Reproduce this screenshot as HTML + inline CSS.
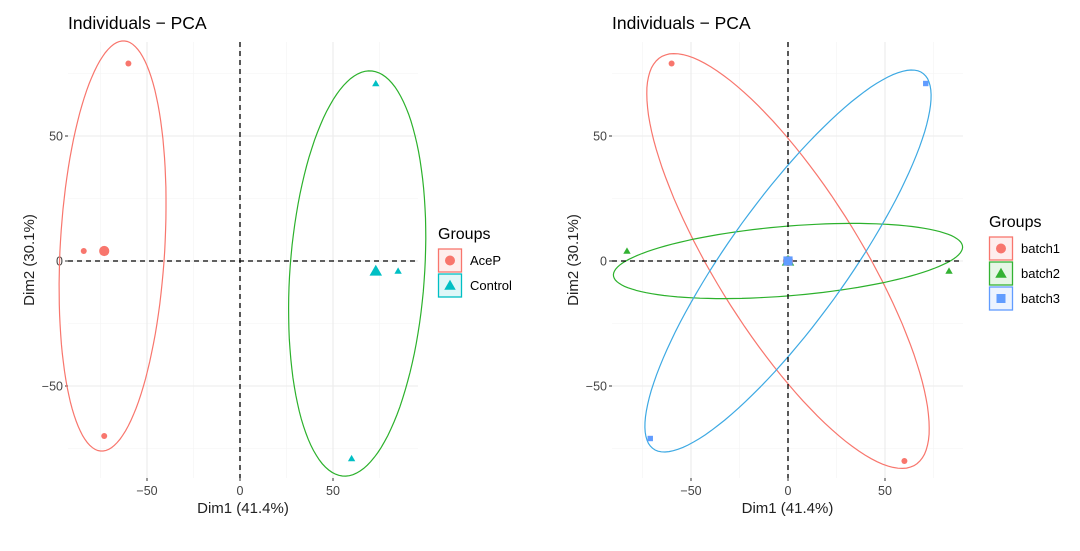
<!DOCTYPE html>
<html><head><meta charset="utf-8"><style>
body{margin:0;background:#fff;}
svg text{font-family:"Liberation Sans",Arial,sans-serif;}
</style></head><body>
<svg id="s" width="1080" height="546" xmlns="http://www.w3.org/2000/svg"></svg>
<script>
const xTicks=[-50,0,50];
const yTicks=[-50,0,50];
const minorTicks=[-75,-25,25,75];
// left panel data
const groupsA=["AceP","Control"];
const aceX=[-60,-84,-73];
const aceY=[79,4,-70];
const aceMean=[-73,4];
const ctlX=[73,85,60];
const ctlY=[71,-4,-79];
const ctlMean=[73,-4];
// ellipses: center, semi-axis vector u, semi-axis vector v (data units)
const ellAce=[[-68.5,6],[6.5,82],[28,-2]];
const ellCtl=[[63,-5],[8,81],[36,-3]];
// right panel data
const groupsB=["batch1","batch2","batch3"];
const b1X=[-60,60], b1Y=[79,-80];
const b2X=[-83,83], b2Y=[4,-4];
const b3X=[71,-71], b3Y=[71,-71];
const bMean=[0,0];
const ellB1=[[0,0],[-68,80],[26,22]];
const ellB2=[[0,0],[90,5.5],[0.5,14]];
const ellB3=[[0,0],[71,74],[20,-19]];

const RED="#F8766D",TEAL="#00BFC4",GREEN="#2CB12C",GRN2="#33b233",BLUE="#619CFF",EBLUE="#3DA9E3";
const svg=document.getElementById('s');
const NS="http://www.w3.org/2000/svg";
function mk(tag,attrs,parent){const e=document.createElementNS(NS,tag);for(const k in attrs)e.setAttribute(k,attrs[k]);(parent||svg).appendChild(e);return e;}

function panel(cfg){
  const g=mk('g',{});
  
  
  const sx=v=>cfg.x0+v*cfg.kx, sy=v=>cfg.y0-v*cfg.ky;
  minorTicks.forEach(t=>{
    mk('line',{x1:sx(t),x2:sx(t),y1:cfg.top,y2:cfg.bot,stroke:"#f3f3f3","stroke-width":0.6},g);
    mk('line',{x1:cfg.left,x2:cfg.right,y1:sy(t),y2:sy(t),stroke:"#f3f3f3","stroke-width":0.6},g);
  });
  xTicks.forEach(t=>{
    mk('line',{x1:sx(t),x2:sx(t),y1:cfg.top,y2:cfg.bot,stroke:"#ebebeb","stroke-width":1.1},g);
    mk('line',{x1:sx(t),x2:sx(t),y1:cfg.bot,y2:cfg.bot+3,stroke:"#333","stroke-width":1},g);
    const tx=mk('text',{x:sx(t),y:cfg.bot+17,"text-anchor":"middle","font-size":12.5,fill:"#444"},g);
    tx.textContent=String(t).replace('-','\u2212');
    
    
  });
  yTicks.forEach(t=>{
    mk('line',{x1:cfg.left,x2:cfg.right,y1:sy(t),y2:sy(t),stroke:"#ebebeb","stroke-width":1.1},g);
    mk('line',{x1:cfg.left-3,x2:cfg.left,y1:sy(t),y2:sy(t),stroke:"#333","stroke-width":1},g);
    const tx=mk('text',{x:cfg.left-5,y:sy(t)+4.5,"text-anchor":"end","font-size":12.5,fill:"#444"},g);
    tx.textContent=String(t).replace('-','\u2212');
    
    
  });
  cfg.ells.forEach((E,i)=>{
    let d="";
    for(let k=0;k<=120;k++){const a=k/120*2*Math.PI,c=Math.cos(a),s=Math.sin(a);
      const x=E[0][0]+c*E[1][0]+s*E[2][0], y=E[0][1]+c*E[1][1]+s*E[2][1];
      d+=(k?"L":"M")+sx(x).toFixed(1)+","+sy(y).toFixed(1);}
    const p=mk('path',{d:d+"Z",fill:"none",stroke:cfg.ellCol[i],"stroke-width":1.2},g);
    
    
  });
  mk('line',{x1:sx(0),x2:sx(0),y1:cfg.top,y2:cfg.bot,stroke:"#000","stroke-width":1.3,"stroke-dasharray":"5,4"},g);
  mk('line',{x1:cfg.left,x2:cfg.right,y1:sy(0),y2:sy(0),stroke:"#000","stroke-width":1.3,"stroke-dasharray":"5,4"},g);
  cfg.series.forEach(S=>{
    S.xs.forEach((v,i)=>{const m=marker(g,S.shape,sx(v),sy(S.ys[i]),S.r,S.col);
      
      });
    const mm=marker(g,S.shape,sx(S.mean[0]),sy(S.mean[1]),S.r*1.7,S.col);
    
    
  });
  const t=mk('text',{x:cfg.left,y:29,"font-size":17.5,fill:"#000"},g);t.textContent="Individuals \u2212 PCA";
  
  const xt=mk('text',{x:(cfg.left+cfg.right)/2,y:cfg.bot+35,"text-anchor":"middle","font-size":15,fill:"#222"},g);xt.textContent="Dim1 (41.4%)";
  
  const yt=mk('text',{x:0,y:0,"text-anchor":"middle","font-size":15,fill:"#222",transform:`translate(${cfg.left-34},${(cfg.top+cfg.bot)/2}) rotate(-90)`},g);yt.textContent="Dim2 (30.1%)";
  
  const lg=mk('g',{},g);
  
  const lt=mk('text',{x:cfg.legX,y:cfg.legY,"font-size":16,fill:"#000"},lg);lt.textContent="Groups";
  
  cfg.legend.forEach((L,i)=>{
    const y=cfg.legY+10+i*25;
    const e=mk('g',{},lg);
    
    mk('rect',{x:cfg.legX+0.5,y:y,width:23,height:23,fill:L.col,"fill-opacity":0.12,stroke:L.col,"stroke-width":1.3},e);
    marker(e,L.shape,cfg.legX+12,y+11.5,5,L.col);
    const tx=mk('text',{x:cfg.legX+32,y:y+16,"font-size":13,fill:"#000"},e);tx.textContent=L.name;
  });
}
function marker(g,shape,x,y,r,col){
  if(shape==='c')return mk('circle',{cx:x,cy:y,r:r,fill:col},g);
  if(shape==='t')return mk('path',{d:`M${x},${y-r*1.15}L${x+r*1.15},${y+r*0.85}L${x-r*1.15},${y+r*0.85}Z`,fill:col},g);
  return mk('rect',{x:x-r*0.9,y:y-r*0.9,width:r*1.8,height:r*1.8,fill:col},g);
}
panel({name:'left-pca-panel',x0:240,y0:261,kx:1.86,ky:2.5,left:68,right:418,top:42,bot:478,
  ells:[ellAce,ellCtl],ellCol:[RED,GREEN],
  series:[{xs:aceX,ys:aceY,mean:aceMean,shape:'c',r:3,col:RED},{xs:ctlX,ys:ctlY,mean:ctlMean,shape:'t',r:3.2,col:TEAL}],
  legX:438,legY:239,legend:[{name:groupsA[0],shape:'c',col:RED},{name:groupsA[1],shape:'t',col:TEAL}]});
panel({name:'right-pca-panel',x0:788,y0:261,kx:1.94,ky:2.5,left:612,right:963,top:42,bot:478,
  ells:[ellB1,ellB2,ellB3],ellCol:[RED,GREEN,EBLUE],
  series:[{xs:b1X,ys:b1Y,mean:bMean,shape:'c',r:3,col:RED},{xs:b2X,ys:b2Y,mean:bMean,shape:'t',r:3.2,col:GRN2},{xs:b3X,ys:b3Y,mean:bMean,shape:'s',r:3,col:BLUE}],
  legX:989,legY:227,legend:[{name:groupsB[0],shape:'c',col:RED},{name:groupsB[1],shape:'t',col:GRN2},{name:groupsB[2],shape:'s',col:BLUE}]});
</script>
</body></html>
